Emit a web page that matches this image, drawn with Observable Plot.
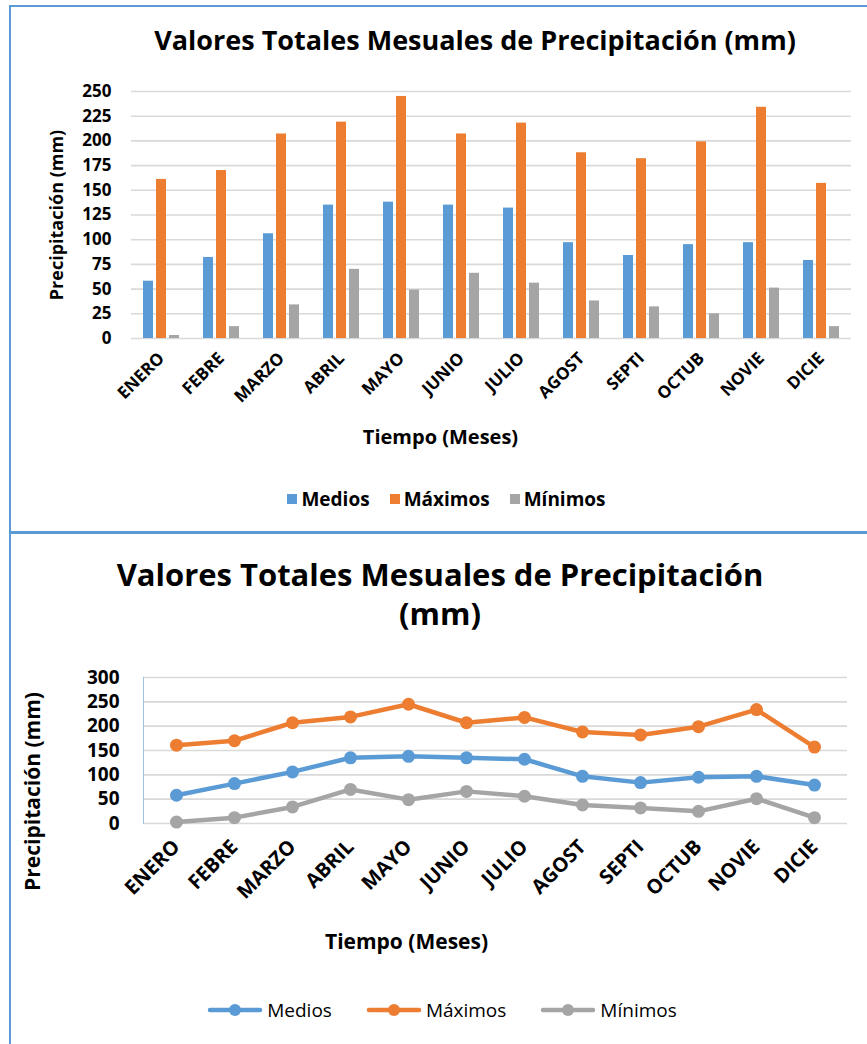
<!DOCTYPE html>
<html>
<head>
<meta charset="utf-8">
<script src="https://cdn.jsdelivr.net/npm/d3@7"></script>
<script src="https://cdn.jsdelivr.net/npm/@observablehq/plot@0.6"></script>
<style>
  body { margin: 0; background: #fff; font-family: "Open Sans", Lato, sans-serif; }
  #page { position: relative; width: 867px; height: 1044px; overflow: hidden; background: #fff; }
  .rule { position: absolute; background: #5b9bd5; }
  .abs { position: absolute; }
  .title { font-weight: 700; color: #000; text-align: center; white-space: nowrap; line-height: 1.25; }
  .legend { position: absolute; display: flex; align-items: center; color: #000; white-space: nowrap; }
  .legend .item { display: flex; align-items: center; }
  .legend svg { display: block; }
</style>
</head>
<body>
<div id="page">
  <div class="rule" style="left:9px;top:5px;width:858px;height:2px"></div>
  <div class="rule" style="left:9px;top:5px;width:2px;height:1039px"></div>
  <div class="rule" style="left:9px;top:531px;width:858px;height:3px"></div>

  <div class="abs title" style="left:0;width:950px;top:23px;font-size:27px">Valores Totales Mesuales de Precipitación (mm)</div>
  <div id="bars" class="abs" style="left:0;top:60px"></div>
  <div id="legend1" class="legend" style="left:0;width:893px;top:486px;justify-content:center;font-weight:700;font-size:19px"></div>

  <div class="abs title" style="left:0;width:880px;top:555px;font-size:31px">Valores Totales Mesuales de Precipitación<br>(mm)</div>
  <div id="lines" class="abs" style="left:0;top:650px"></div>
  <div id="legend2" class="legend" style="left:0;width:884px;top:997px;justify-content:center;font-size:19px"></div>
</div>
<script>
// Monthly precipitation totals (mm)
const months = ["ENERO", "FEBRE", "MARZO", "ABRIL", "MAYO", "JUNIO", "JULIO", "AGOST", "SEPTI", "OCTUB", "NOVIE", "DICIE"];
const series = ["Medios", "Máximos", "Mínimos"];
const medios  = [58, 82, 106, 135, 138, 135, 132, 97, 84, 95, 97, 79];
const maximos = [161, 170, 207, 219, 245, 207, 218, 188, 182, 199, 234, 157];
const minimos = [3, 12, 34, 70, 49, 66, 56, 38, 32, 25, 51, 12];
const colors  = ["#5b9bd5", "#ed7d31", "#a5a5a5"];
const barTicks  = [0, 25, 50, 75, 100, 125, 150, 175, 200, 225, 250];
const lineTicks = [0, 50, 100, 150, 200, 250, 300];

const values = [medios, maximos, minimos];
const rows = months.flatMap((mes, i) =>
  series.map((serie, j) => ({mes, serie, valor: values[j][i]}))
);

const font = '"Open Sans", Lato, sans-serif';

// Grouped column chart
const bars = Plot.plot({
  width: 867,
  height: 400,
  marginTop: 31,
  marginBottom: 122,
  marginLeft: 131,
  marginRight: 16,
  style: {fontFamily: font, fontWeight: 700, color: "#000", background: "transparent", overflow: "visible"},
  fx: {domain: months, padding: 0, axis: null, label: null},
  x: {domain: series, paddingInner: 0.2, paddingOuter: 0.855, axis: null},
  y: {domain: [0, 250], axis: null},
  color: {domain: series, range: colors},
  marks: [
    Plot.ruleY(barTicks, {stroke: "#d9d9d9", strokeWidth: 1.6}),
    Plot.barY(rows, {fx: "mes", x: "serie", y: "valor", fill: "serie"}),
    Plot.axisY({
      ticks: barTicks, tickSize: 0, tickPadding: 20, fontSize: 17,
      label: null
    }),
    Plot.axisFx({
      anchor: "bottom", tickRotate: -45, tickSize: 0, tickPadding: 17, fontSize: 17,
      label: null
    }),
    Plot.text(["Precipitación (mm)"], {
      facet: "super", frameAnchor: "left", rotate: -90, dx: -74,
      fontSize: 18, fontWeight: 700, textAnchor: "middle"
    }),
    Plot.text(["Tiempo (Meses)"], {
      facet: "super", frameAnchor: "bottom", dx: -51, dy: 105, fontSize: 20, fontWeight: 700
    })
  ]
});
document.getElementById("bars").appendChild(bars);

// Line chart with markers
const lines = Plot.plot({
  width: 867,
  height: 320,
  marginTop: 27,
  marginBottom: 147,
  marginLeft: 143,
  marginRight: 20,
  style: {fontFamily: font, fontWeight: 700, color: "#000", background: "transparent", overflow: "visible"},
  x: {type: "point", domain: months, padding: 0.5, axis: null},
  y: {domain: [0, 300], axis: null},
  color: {domain: series, range: colors},
  marks: [
    Plot.ruleY(lineTicks, {stroke: "#d9d9d9", strokeWidth: 1.6}),
    Plot.frame({anchor: "left", stroke: "#9dc3e6", strokeWidth: 1}),
    Plot.lineY(rows, {x: "mes", y: "valor", z: "serie", stroke: "serie", strokeWidth: 4.5, strokeLinejoin: "round", strokeLinecap: "round"}),
    Plot.dot(rows, {x: "mes", y: "valor", fill: "serie", r: 6.5}),
    Plot.axisY({ticks: lineTicks, tickSize: 0, tickPadding: 24, fontSize: 19, label: null}),
    Plot.axisX({tickRotate: -45, tickSize: 0, tickPadding: 20, fontSize: 20, label: null}),
    Plot.text(["Precipitación (mm)"], {
      frameAnchor: "left", rotate: -90, dx: -110, dy: 41,
      fontSize: 21, fontWeight: 700, textAnchor: "middle"
    }),
    Plot.text(["Tiempo (Meses)"], {
      frameAnchor: "bottom", dx: -89, dy: 125, fontSize: 21, fontWeight: 700
    })
  ]
});
document.getElementById("lines").appendChild(lines);

// Legends
function squareItem(name, color) {
  return `<span class="item" style="margin:0 10px"><svg width="10" height="10" style="margin-right:4px"><rect width="10" height="10" fill="${color}"/></svg>${name}</span>`;
}
function lineItem(name, color) {
  return `<span class="item" style="margin:0 17px"><svg width="56" height="14" style="margin-right:4px"><line x1="3" x2="53" y1="7" y2="7" stroke="${color}" stroke-width="4.5" stroke-linecap="round"/><circle cx="28" cy="7" r="6" fill="${color}"/></svg>${name}</span>`;
}
document.getElementById("legend1").innerHTML = series.map((s, i) => squareItem(s, colors[i])).join("");
document.getElementById("legend2").innerHTML = series.map((s, i) => lineItem(s, colors[i])).join("");
</script>
</body>
</html>
